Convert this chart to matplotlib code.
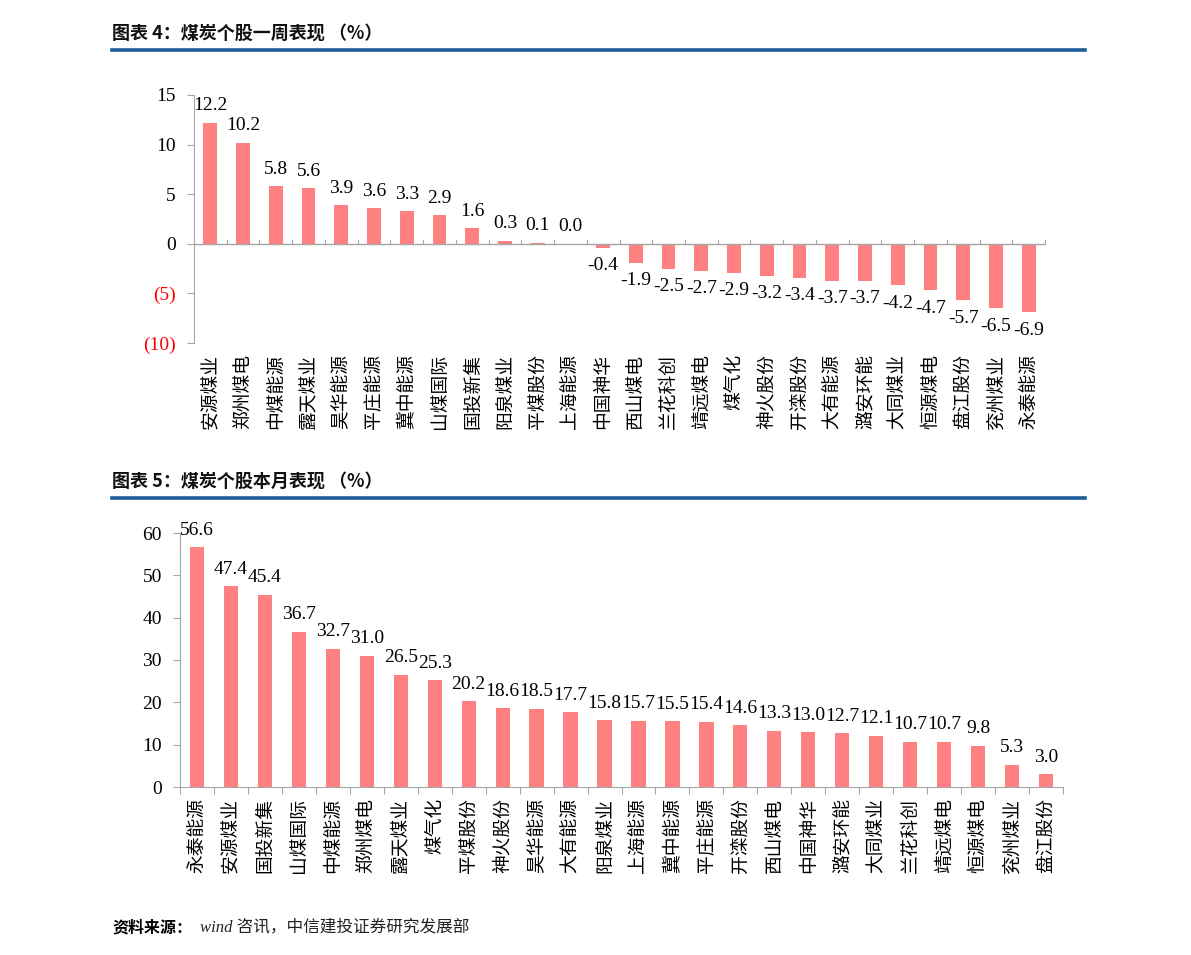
import matplotlib
matplotlib.use("Agg")
import matplotlib.pyplot as plt
from matplotlib.ticker import FixedLocator, FuncFormatter
from matplotlib.lines import Line2D

# ---------------- data ----------------
week_names = ["安源煤业", "郑州煤电", "中煤能源", "露天煤业", "昊华能源", "平庄能源", "冀中能源",
              "山煤国际", "国投新集", "阳泉煤业", "平煤股份", "上海能源", "中国神华", "西山煤电",
              "兰花科创", "靖远煤电", "煤气化", "神火股份", "开滦股份", "大有能源", "潞安环能",
              "大同煤业", "恒源煤电", "盘江股份", "兖州煤业", "永泰能源"]
week_values = [12.2, 10.2, 5.8, 5.6, 3.9, 3.6, 3.3, 2.9, 1.6, 0.3, 0.1, 0.0, -0.4, -1.9,
               -2.5, -2.7, -2.9, -3.2, -3.4, -3.7, -3.7, -4.2, -4.7, -5.7, -6.5, -6.9]

month_names = ["永泰能源", "安源煤业", "国投新集", "山煤国际", "中煤能源", "郑州煤电", "露天煤业",
               "煤气化", "平煤股份", "神火股份", "昊华能源", "大有能源", "阳泉煤业", "上海能源",
               "冀中能源", "平庄能源", "开滦股份", "西山煤电", "中国神华", "潞安环能", "大同煤业",
               "兰花科创", "靖远煤电", "恒源煤电", "兖州煤业", "盘江股份"]
month_values = [56.6, 47.4, 45.4, 36.7, 32.7, 31.0, 26.5, 25.3, 20.2, 18.6, 18.5, 17.7, 15.8,
                15.7, 15.5, 15.4, 14.6, 13.3, 13.0, 12.7, 12.1, 10.7, 10.7, 9.8, 5.3, 3.0]

week_ticks = [-10, -5, 0, 5, 10, 15]
month_ticks = [0, 10, 20, 30, 40, 50, 60]

title1 = "图表 4：煤炭个股一周表现 （%）"
title2 = "图表 5：煤炭个股本月表现 （%）"
source = "wind 咨讯，中信建投证券研究发展部"

# ---------------- style ----------------
W, H = 1191, 955
BAR = "#FF8080"
BLUE = "#1F5C99"
SPINE = "#A6A6A6"
SERIF = ["Liberation Serif", "Noto Sans CJK SC"]
CJK = ["Noto Sans CJK SC", "DejaVu Sans"]

fig = plt.figure(figsize=(W / 100, H / 100), dpi=100)
fig.patch.set_facecolor("white")


def px_axes(x0, y_top, x1, y_bot):
    return fig.add_axes([x0 / W, 1 - y_bot / H, (x1 - x0) / W, (y_bot - y_top) / H])


def header(text, y_text, y_line):
    fig.text(112 / W, 1 - y_text / H, text, fontsize=13, fontweight="bold",
             family=CJK, va="center", ha="left", color="#111111")
    fig.add_artist(Line2D([112 / W, 1085 / W], [1 - y_line / H] * 2,
                          color=BLUE, lw=2.6, transform=fig.transFigure))


def style_axes(ax, n):
    for s in ["top", "right"]:
        ax.spines[s].set_visible(False)
    ax.spines["left"].set_color(SPINE)
    ax.spines["bottom"].set_color(SPINE)
    ax.set_xlim(-0.5, n - 0.5)
    ax.xaxis.set_major_locator(FixedLocator([i - 0.5 for i in range(n + 1)]))
    ax.xaxis.set_minor_locator(FixedLocator(list(range(n))))
    ax.tick_params(axis="x", which="major", length=5, color=SPINE, labelbottom=False)
    ax.tick_params(axis="x", which="minor", length=0, pad=8)
    ax.tick_params(axis="y", length=5, color=SPINE, labelsize=14, pad=8)


# ---------------- chart 1 ----------------
header(title1, 33, 50)
ax1 = px_axes(194, 95, 1045, 343)
n1 = len(week_names)
x1 = list(range(n1))
ax1.bar(x1, week_values, width=0.42, color=BAR, zorder=2)
ax1.set_ylim(-10, 15)
ax1.yaxis.set_major_locator(FixedLocator(week_ticks))
ax1.yaxis.set_major_formatter(FuncFormatter(lambda v, p: f"({abs(int(v))})" if v < 0 else f"{int(v)}"))
style_axes(ax1, n1)
ax1.axhline(0, color=SPINE, lw=1, zorder=3)
ax1.spines["bottom"].set_visible(False)
ax1.set_xticks(x1, minor=True)
ax1.set_xticklabels(week_names, minor=True, rotation=90, family=CJK, fontsize=13.5)
ax1.tick_params(axis="x", which="major", bottom=False)
for t in ax1.get_yticklabels():
    t.set_family(SERIF)
    t.set_fontsize(14)
for t, v in zip(ax1.get_yticklabels(), week_ticks):
    if v < 0:
        t.set_color("red")
# ticks along the zero line
for i in range(n1 + 1):
    ax1.plot([i - 0.5, i - 0.5], [0, 0.35], color=SPINE, lw=0.8, zorder=3, clip_on=False)
for xi, v in zip(x1, week_values):
    if v >= 0:
        ax1.annotate(f"{v:.1f}", (xi, v), xytext=(0, 6), textcoords="offset points",
                     ha="center", va="bottom", fontsize=14, family=SERIF)
    else:
        ax1.annotate(f"{v:.1f}", (xi, v), xytext=(0, -7), textcoords="offset points",
                     ha="center", va="top", fontsize=14, family=SERIF)
for lab in ax1.get_xticklabels(minor=True):
    lab.set_va("top")
ax1.tick_params(axis="x", which="minor", pad=8)

# ---------------- chart 2 ----------------
header(title2, 481, 498)
ax2 = px_axes(180, 533, 1063, 787)
n2 = len(month_names)
x2 = list(range(n2))
ax2.bar(x2, month_values, width=0.42, color=BAR, zorder=2)
ax2.set_ylim(0, 60)
ax2.yaxis.set_major_locator(FixedLocator(month_ticks))
ax2.yaxis.set_major_formatter(FuncFormatter(lambda v, p: f"{int(v)}"))
style_axes(ax2, n2)
ax2.set_xticks(x2, minor=True)
ax2.set_xticklabels(month_names, minor=True, rotation=90, family=CJK, fontsize=13.5)
for t in ax2.get_yticklabels():
    t.set_family(SERIF)
    t.set_fontsize(14)
for xi, v in zip(x2, month_values):
    ax2.annotate(f"{v:.1f}", (xi, v), xytext=(0, 6), textcoords="offset points",
                 ha="center", va="bottom", fontsize=14, family=SERIF)

# ---------------- source ----------------
fig.text(112 / W, 1 - 927 / H, "资料来源：", fontsize=11.5, fontweight="bold", style="italic",
         family=CJK, va="center", ha="left")
fig.text(200 / W, 1 - 927 / H, source, fontsize=12, style="italic",
         family=SERIF, va="center", ha="left", color="#222222")

fig.savefig("out.png", dpi=100)
